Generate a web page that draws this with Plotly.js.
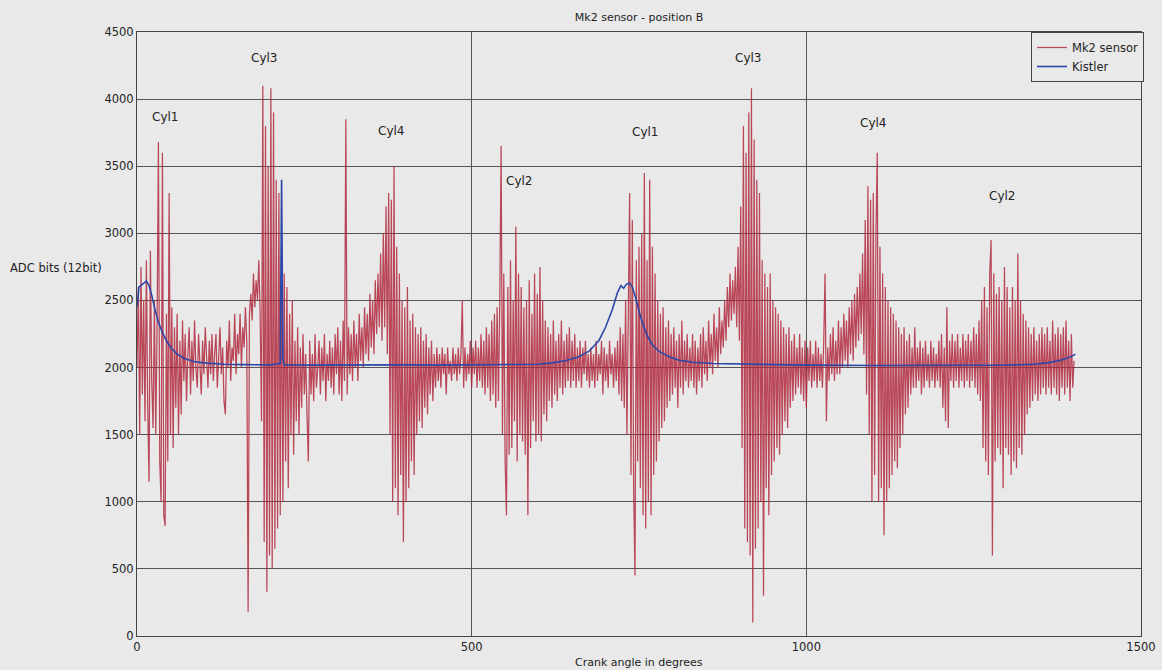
<!DOCTYPE html>
<html>
<head>
<meta charset="utf-8">
<script src="https://cdn.plot.ly/plotly-3.0.1.min.js"></script>
<style>html,body{margin:0;padding:0;background:#e9e9e9;}#chart{width:1162px;height:670px;}</style>
</head>
<body>
<div id="chart"></div>
<script>
// Mk2 sensor samples, every 2 degrees of crank angle starting at 0
const mk2Start = 0;
const mk2Step = 2;
const mk2 = [
  2000,2600,1500,2750,1800,2500,1600,2800,1700,1150,2870,1900,1550,2500,1500,2300,3680,1300,1000,3600, // 0-38
  900,820,2400,1300,3300,1500,2450,1400,2300,1700,2400,1500,2200,1650,2350,1900,2250,1750,2100,2300,    // 40-78
  1800,2200,1900,2350,2000,1850,2250,2050,1800,2200,1950,2300,2000,1850,2200,1950,2250,1900,2100,2250, // 80-118
  1850,2050,2300,1950,2150,1750,1650,2200,2000,2350,1900,2150,2050,2400,1950,2250,2100,2400,2000,2300, // 120-158
  2150,2450,2200,180,2400,2550,2350,2700,2450,2650,2500,2800,2400,1600,4100,700,3800,330,3500,600,     // 160-198
  4080,500,3900,650,3400,800,3300,900,2900,1000,2700,1300,2600,1100,2400,1500,2500,1350,2200,1600,     // 200-238
  2300,1500,2150,1700,2250,1800,2100,1650,1300,2200,1800,2100,1750,2250,1850,2000,2200,1800,2150,1900, // 240-278
  2250,1750,2100,1900,2200,1850,2150,1800,2250,1950,2300,1800,2200,1750,2350,1900,3850,1800,2300,1950, // 280-318
  2250,1900,2350,2000,2250,1900,2400,2050,2300,2000,2450,2100,2400,2050,2550,2150,2500,2100,2650,2250, // 320-358
  2700,2300,2850,2200,3000,2300,3200,2100,3300,1500,3250,1000,3500,1100,2900,900,2700,1200,2500,700,   // 360-398
  2450,1000,2600,1100,2350,1300,2400,1200,2300,1500,2250,1600,2300,1550,2200,1700,2250,1650,2150,1800, // 400-438
  2200,1750,2100,1850,2150,1900,2100,1850,2150,1950,2100,1800,2150,1950,2050,1900,2150,1950,2100,1900, // 440-478
  2150,1950,2100,2500,1850,2150,1900,2100,1950,2200,1850,2150,1950,2200,1850,2150,1900,2250,1850,2200, // 480-518
  1800,2300,1850,2250,1750,2350,1800,2400,1700,2450,1750,2500,3650,1500,2700,1300,900,2600,1350,2800,  // 520-558
  1400,2500,1600,3050,1300,2700,1500,2600,1450,2450,1350,2500,900,2650,1400,2400,1600,2700,1450,2550,  // 560-598
  1500,2750,1450,2500,1650,2350,1600,2300,1750,2250,1700,2350,1800,2200,1750,2250,1850,2350,1800,2200, // 600-638
  1850,2250,1900,2300,1850,2200,1900,2250,1850,2150,1900,2200,1850,2150,1950,2200,1900,2100,1850,2150, // 640-678
  1900,2100,1850,2200,1900,2100,1950,2200,1800,2150,1900,2100,1850,2200,1950,2100,1850,2150,1900,2200, // 680-718
  1800,2300,1750,2250,1700,2500,1500,2400,3300,1200,3100,1100,450,2800,1300,2900,1100,3000,900,3450,   // 720-758
  800,2800,1000,3400,900,2900,1200,2700,1300,2500,1450,2400,1550,2450,1600,2300,1700,2350,1750,2250,   // 760-798
  1800,2300,1850,2200,1700,2250,1850,2350,1800,2200,1900,2250,1850,2150,1900,2250,1850,2200,1800,2150, // 800-838
  1900,2250,1850,2300,1950,2200,1900,2350,2000,2250,1950,2400,2050,2300,2000,2450,2100,2350,2150,2500, // 840-878
  2200,2600,2300,2700,2350,2650,2400,2750,2300,2900,2200,3200,1400,3800,800,3600,700,3900,600,4080,    // 880-918
  100,3700,650,3400,800,3300,1000,2800,300,2700,1100,2600,900,2700,1200,2500,1300,2450,1400,2400,     // 920-958
  1350,2350,1500,2300,1600,2250,1550,2300,1700,2200,1750,2250,1800,2150,1850,2250,1800,2150,1750,2200, // 960-998
  1700,2150,1900,2200,1850,2100,1900,2200,1850,2150,1900,2100,1850,2200,2700,1600,2150,1900,2250,1950, // 1000-1038
  2300,1900,2200,1950,2350,1950,2300,2000,2400,2050,2350,2000,2450,2100,2500,2050,2550,2150,2600,2200, // 1040-1078
  2700,2250,2850,2100,3100,1800,3350,1500,3250,1000,3300,1200,3000,3600,1000,2900,1100,2700,750,2600,  // 1080-1118
  1000,2500,1100,2450,1200,2400,1300,2350,1250,2300,1400,2250,1500,2300,1650,2200,1700,2250,1800,2150, // 1120-1158
  1850,2300,1850,2150,1900,2200,1800,2150,1850,2200,1900,2100,1850,2200,1900,2150,1850,2100,1900,2200, // 1160-1198
  1850,2250,1700,2150,1600,2450,1550,2200,1900,2250,1850,2200,1900,2250,1850,2150,1900,2250,1850,2200, // 1200-1238
  1900,2250,1850,2200,1900,2300,1850,2250,1800,2350,1750,2500,1400,2600,1300,2450,1200,2700,2950,600,  // 1240-1278
  2700,1300,2550,1400,2600,1350,2500,1100,2750,1400,2600,1350,2450,1200,2600,1300,2500,1250,2850,1400, // 1280-1318
  2500,1350,2400,1500,2350,1650,2300,1700,2250,1750,2300,1800,2200,1750,2250,1800,2300,1850,2250,1800, // 1320-1358
  2300,1850,2200,1800,2350,1850,2250,1800,2300,1750,2250,1850,2300,1800,2350,1850,2200,1750,2250,1850, // 1360-1398
  2050                                                                                                   // 1400
];

// Kistler reference pressure transducer
const kistlerAngle = [0,3,8,14,18,22,27,32,38,45,52,60,70,85,100,130,160,200,214,216,218,220,260,300,350,400,450,500,550,600,620,640,660,675,690,700,710,718,723,727,731,736,740,745,750,756,762,770,780,795,810,830,860,900,950,1000,1100,1200,1300,1340,1360,1380,1395,1402];
const kistler = [2450,2600,2620,2645,2610,2540,2430,2340,2260,2190,2140,2100,2070,2045,2035,2025,2022,2020,2030,3400,2060,2020,2018,2020,2022,2020,2018,2020,2022,2025,2035,2050,2080,2120,2200,2300,2430,2560,2610,2590,2620,2630,2600,2520,2420,2320,2240,2170,2120,2080,2055,2040,2030,2025,2020,2018,2015,2015,2018,2025,2035,2055,2080,2100];

// Cylinder labels
const cylLabels = ["Cyl1","Cyl3","Cyl4","Cyl2","Cyl1","Cyl3","Cyl4","Cyl2"];
const cylAngle  = [42,190,380,571,759,913,1099,1293];
const cylLevel  = [3870,4310,3760,3390,3755,4310,3820,3280];

const xTicks = [0,500,1000,1500];
const yTicks = [0,500,1000,1500,2000,2500,3000,3500,4000,4500];

const FAM = '"DejaVu Sans", Verdana, sans-serif';
const TXT = '#222';

const traces = [
  {type:'scatter', mode:'lines', name:'Mk2 sensor', x0:mk2Start, dx:mk2Step, y:mk2,
   line:{color:'rgba(178,42,62,0.85)', width:1.25}},
  {type:'scatter', mode:'lines', name:'Kistler', x:kistlerAngle, y:kistler,
   line:{color:'#2c47a8', width:1.6}}
];

const annotations = cylLabels.map((t,i)=>({
  x:cylAngle[i], y:cylLevel[i], xref:'x', yref:'y', text:t, showarrow:false,
  font:{family:FAM, size:12, color:TXT}
}));
annotations.push({xref:'paper', yref:'y', x:-129/1004, y:2745, xanchor:'left', yanchor:'middle',
  text:'ADC bits (12bit)', showarrow:false, font:{family:FAM, size:11.5, color:TXT}});
annotations.push({xref:'paper', yref:'paper', x:0.5, y:-26/604, xanchor:'center', yanchor:'middle',
  text:'Crank angle in degrees', showarrow:false, font:{family:FAM, size:11, color:TXT}});

const layout = {
  width:1162, height:670,
  margin:{l:137, r:21, t:32, b:34},
  paper_bgcolor:'#e9e9e9', plot_bgcolor:'#e9e9e9',
  font:{family:FAM, size:12, color:TXT},
  title:{text:'Mk2 sensor - position B', x:0.5, xref:'paper', y:1-17/670, yref:'container',
         xanchor:'center', yanchor:'middle', font:{family:FAM, size:11, color:TXT}},
  showlegend:true,
  legend:{x:1.003, y:1, xanchor:'right', yanchor:'top', bgcolor:'#e9e9e9', bordercolor:'#444',
          borderwidth:1, font:{family:FAM, size:11.5, color:TXT}, tracegroupgap:0,
          itemwidth:30},
  xaxis:{range:[0,1500], tickvals:xTicks, ticktext:xTicks.map(String), showgrid:true,
         gridcolor:'#555', gridwidth:1, zeroline:false, showline:true, linecolor:'#444',
         mirror:true, ticks:'', tickfont:{family:FAM, size:11.5, color:TXT}},
  yaxis:{range:[0,4500], tickvals:yTicks, ticktext:yTicks.map(String), showgrid:true,
         gridcolor:'#555', gridwidth:1, zeroline:false, showline:true, linecolor:'#444',
         mirror:true, ticks:'', tickfont:{family:FAM, size:11.5, color:TXT}},
  annotations:annotations
};

Plotly.newPlot('chart', traces, layout, {staticPlot:true, displayModeBar:false});
</script>
</body>
</html>
